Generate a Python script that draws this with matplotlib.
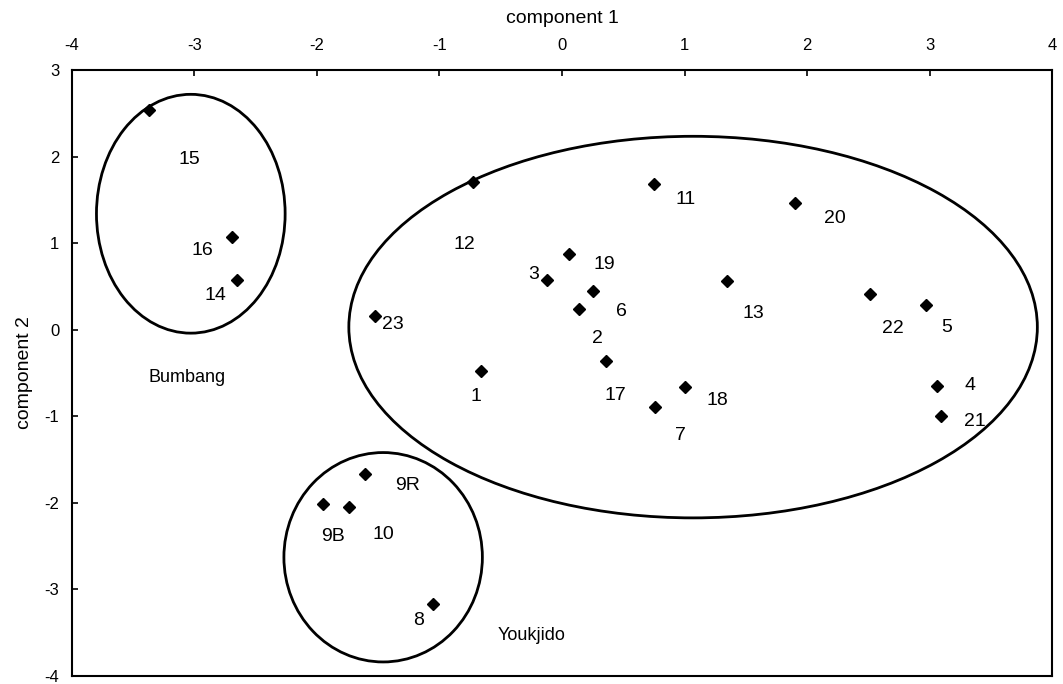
import matplotlib

matplotlib.use("agg")
import matplotlib.pyplot as plt
from matplotlib.patches import Ellipse

plt.rcParams["font.family"] = ["Liberation Sans", "DejaVu Sans"]
plt.rcParams["axes.unicode_minus"] = False

# sample scores on the first two components
labels = ["15", "16", "14", "12", "23", "11", "20", "19", "3", "6", "2", "13",
          "22", "5", "17", "18", "7", "4", "21", "1", "9R", "9B", "10", "8"]
comp1 = [-3.37, -2.69, -2.65, -0.73, -1.53, 0.75, 1.90, 0.06, -0.12, 0.25, 0.14, 1.35,
         2.51, 2.97, 0.36, 1.00, 0.76, 3.06, 3.09, -0.66, -1.61, -1.95, -1.74, -1.05]
comp2 = [2.54, 1.07, 0.57, 1.71, 0.16, 1.68, 1.46, 0.88, 0.57, 0.45, 0.24, 0.56,
         0.41, 0.28, -0.36, -0.66, -0.89, -0.65, -1.00, -0.48, -1.67, -2.02, -2.05, -3.17]

# label offsets from each point, in points
label_offsets = [(29, -36), (-22, -10), (-16, -11), (-6, -45), (13, -6), (23, -11),
                 (29, -11), (25, -8), (-10, 4), (21, -15), (13, -21), (19, -23),
                 (17, -25), (15, -16), (7, -25), (24, -10), (18, -21), (24, 0),
                 (25, -4), (-4, -18), (31, -8), (7, -23), (25, -20), (-11, -12)]

tick_vals = [-4, -3, -2, -1, 0, 1, 2, 3, 4]
ytick_vals = [-4, -3, -2, -1, 0, 1, 2, 3]

# cluster outlines: (centre x, centre y, width, height)
groups = [(-3.03, 1.34, 1.54, 2.76),
          (1.07, 0.03, 5.62, 4.41),
          (-1.46, -2.63, 1.62, 2.42)]
group_names = [("Bumbang", -3.06, -0.55), ("Youkjido", -0.25, -3.53)]

fig = plt.figure(figsize=(10.63, 6.84), dpi=100)
ax = fig.add_axes([0.0677, 0.012, 0.922, 0.8855])

ax.plot(comp1, comp2, "D", color="black", markersize=6, linestyle="none")

for lab, x, y, off in zip(labels, comp1, comp2, label_offsets):
    ax.annotate(lab, (x, y), xytext=off, textcoords="offset points",
                ha="center", va="center", fontsize=14)

for cx, cy, w, h in groups:
    ax.add_patch(Ellipse((cx, cy), w, h, fill=False, edgecolor="black", lw=2))

for name, x, y in group_names:
    ax.text(x, y, name, ha="center", va="center", fontsize=13)

ax.set_xlim(-4, 4)
ax.set_ylim(-4, 3)
ax.set_xticks(tick_vals)
ax.set_yticks(ytick_vals)
ax.xaxis.tick_top()
ax.xaxis.set_label_position("top")
ax.tick_params(axis="both", direction="in", length=4, width=1.2, labelsize=12)
ax.tick_params(axis="x", pad=12)
ax.tick_params(axis="y", pad=9)
ax.set_xlabel("component 1", fontsize=14, labelpad=11)
ax.set_ylabel("component 2", fontsize=14, labelpad=8)
for sp in ax.spines.values():
    sp.set_linewidth(1.5)

fig.savefig("out.png", dpi=100)
